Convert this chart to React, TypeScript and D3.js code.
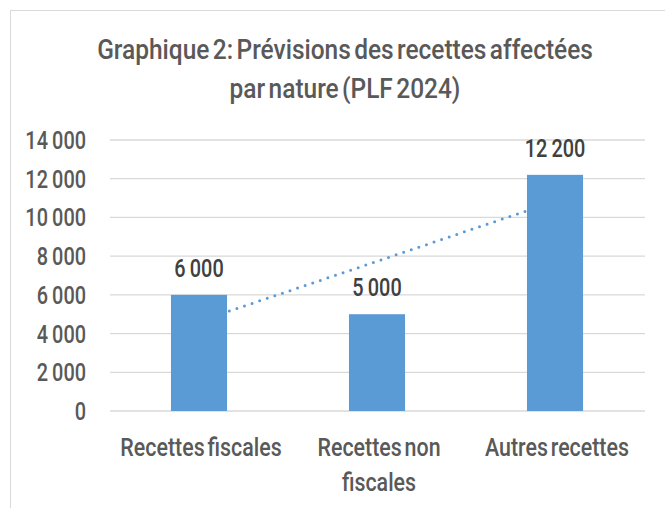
import * as d3 from "d3";
import { useEffect, useRef } from "react";

const categories = [["Recettes fiscales"], ["Recettes non", "fiscales"], ["Autres recettes"]];
const values = [6000, 5000, 12200];
const yTicks = [0, 2000, 4000, 6000, 8000, 10000, 12000, 14000];
const titleLines = ["Graphique 2: Prévisions des recettes affectées", "par nature (PLF 2024)"];

const FONT = "Roboto, 'DejaVu Sans', sans-serif";

const fmt = (v: number) => d3.format(",")(v).replace(/,/g, " ");

const App = () => {
  const ref = useRef<SVGSVGElement>(null);

  useEffect(() => {
    const svg = d3.select(ref.current);
    const width = 665;
    const height = 508;
    svg.attr("width", width).attr("height", height);

    const x = d3
      .scaleBand<number>()
      .domain(d3.range(values.length))
      .range([110, 644])
      .paddingInner(0.685)
      .paddingOuter(0.3425);
    const y = d3.scaleLinear().domain([0, 14000]).range([411, 140]);

    // squeezed text helper (the original font is a condensed DIN)
    const label = (
      g: d3.Selection<any, any, any, any>,
      tx: number,
      ty: number,
      text: string,
      size: number,
      color: string,
      anchor: string,
      squeeze: number,
      wordGap: number
    ) =>
      g
        .append("text")
        .attr("transform", `translate(${tx},${ty}) scale(${squeeze},1)`)
        .attr("text-anchor", anchor)
        .attr("font-family", FONT)
        .attr("font-weight", 500)
        .attr("font-size", size)
        .attr("word-spacing", wordGap)
        .attr("fill", color)
        .text(text);

    // chart area border
    svg
      .append("rect")
      .attr("x", 10.5)
      .attr("y", 10.5)
      .attr("width", 700)
      .attr("height", 600)
      .attr("fill", "#fff")
      .attr("stroke", "#D9D9D9");

    // title
    titleLines.forEach((t, i) =>
      label(svg, 345, 59 + i * 39, t, 27.5, "#595959", "middle", 0.89, -3)
    );

    // gridlines
    svg
      .append("g")
      .selectAll("line")
      .data(yTicks)
      .join("line")
      .attr("x1", 110)
      .attr("x2", 645)
      .attr("y1", (d) => y(d))
      .attr("y2", (d) => y(d))
      .attr("stroke", "#D9D9D9")
      .attr("stroke-width", 1.3);

    // y tick labels
    const yl = svg.append("g");
    yTicks.forEach((t) => label(yl, 86, y(t) + 9, fmt(t), 25.5, "#595959", "end", 0.78, -1));

    // trendline (linear regression over category index)
    const idx = values.map((_, i) => i + 1);
    const mx = d3.mean(idx) as number;
    const my = d3.mean(values) as number;
    const slope =
      d3.sum(idx, (v, i) => (v - mx) * (values[i] - my)) / d3.sum(idx, (v) => (v - mx) ** 2);
    const icpt = my - slope * mx;
    const cx = (i: number) => (x(i) as number) + x.bandwidth() / 2;
    svg
      .append("line")
      .attr("x1", cx(0))
      .attr("y1", y(icpt + slope * 1))
      .attr("x2", cx(values.length - 1))
      .attr("y2", y(icpt + slope * values.length))
      .attr("stroke", "#5B9BD5")
      .attr("stroke-width", 3)
      .attr("stroke-linecap", "round")
      .attr("stroke-dasharray", "0 8");

    // bars
    svg
      .append("g")
      .selectAll("rect")
      .data(values)
      .join("rect")
      .attr("x", (_, i) => x(i) as number)
      .attr("y", (d) => y(d))
      .attr("width", x.bandwidth())
      .attr("height", (d) => y(0) - y(d))
      .attr("fill", "#5B9BD5");

    // data labels
    const dl = svg.append("g");
    values.forEach((v, i) =>
      label(dl, cx(i), y(v) - 18, fmt(v), 25.5, "#404040", "middle", 0.78, -1)
    );

    // category labels
    const xl = svg.append("g");
    categories.forEach((lines, i) =>
      lines.forEach((t, j) =>
        label(xl, cx(i) + 2, 456 + j * 35, t, 25.5, "#595959", "middle", 0.84, -3)
      )
    );

    return () => {
      svg.selectAll("*").remove();
    };
  }, []);

  return <svg ref={ref} style={{ position: "absolute", left: 0, top: 0 }}></svg>;
};

export default App;
